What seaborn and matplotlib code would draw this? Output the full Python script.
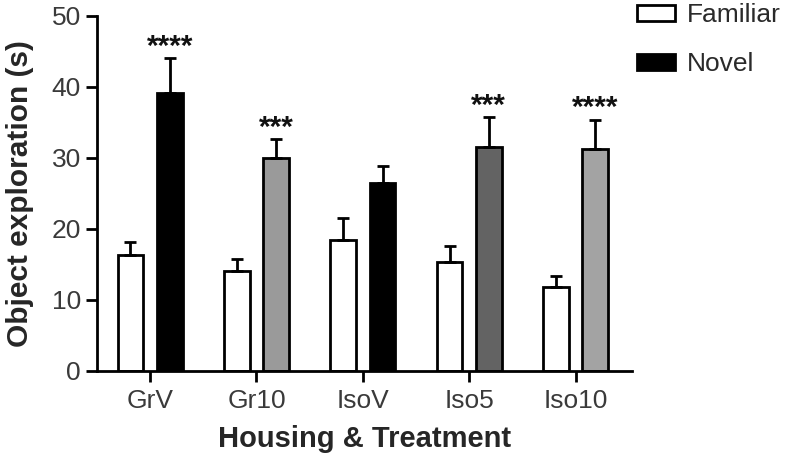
import numpy as np
import pandas as pd
import seaborn as sns
import matplotlib.pyplot as plt
from matplotlib.patches import Patch

# Values
groups = ['GrV', 'Gr10', 'IsoV', 'Iso5', 'Iso10']
familiar = [16.3, 14.1, 18.5, 15.3, 11.8]
familiar_err = [1.8, 1.7, 3.1, 2.3, 1.5]
novel = [39.2, 30.0, 26.5, 31.5, 31.2]
novel_err = [4.8, 2.7, 2.4, 4.2, 4.2]
novel_colors = ['#000000', '#9a9a9a', '#000000', '#636363', '#a3a3a3']
stars = ['****', '***', '', '***', '****']

df = pd.DataFrame({
    'group': groups * 2,
    'object': ['Familiar'] * len(groups) + ['Novel'] * len(groups),
    'time': familiar + novel,
})

sns.set_style('ticks')
plt.rcParams['font.family'] = ['Liberation Sans', 'DejaVu Sans']

fig = plt.figure(figsize=(7.88, 4.54), dpi=100)
ax = fig.add_axes([0.123, 0.183, 0.679, 0.782])

sns.barplot(data=df, x='group', y='time', hue='object', order=groups,
            hue_order=['Familiar', 'Novel'], palette=['white', 'black'],
            width=0.74, gap=0.35, errorbar=None, legend=False,
            edgecolor='black', linewidth=2, ax=ax)

# per-bar colours for the novel bars
fam_bars, nov_bars = ax.containers[0], ax.containers[1]
for bar, c in zip(nov_bars, novel_colors):
    bar.set_facecolor(c)

# upward-only error bars
for bars, errs in [(fam_bars, familiar_err), (nov_bars, novel_err)]:
    xs = [b.get_x() + b.get_width() / 2 for b in bars]
    ys = [b.get_height() for b in bars]
    ax.errorbar(xs, ys, yerr=[np.zeros(len(errs)), errs], fmt='none',
                ecolor='black', elinewidth=2, capsize=4.5, capthick=2, zorder=1)

# significance stars
for b, e, s in zip(nov_bars, novel_err, stars):
    if s:
        ax.annotate(s, (b.get_x() + b.get_width() / 2, b.get_height() + e),
                    xytext=(0, -2), textcoords='offset points',
                    ha='center', va='bottom', fontsize=21.5, fontweight='bold',
                    color='#111111')

ax.set_ylim(0, 50)
ax.set_xlim(-0.5, 4.53)
ax.set_yticks([0, 10, 20, 30, 40, 50])
ax.set_xlabel('Housing & Treatment', fontsize=21, fontweight='bold', labelpad=9)
ax.set_ylabel('Object exploration (s)', fontsize=21.5, fontweight='bold', labelpad=13)
ax.tick_params(axis='both', labelsize=19, width=2, length=8, colors='black',
               labelcolor='#3a3a3a')
ax.tick_params(axis='x', pad=5)
sns.despine(ax=ax)
for sp in ['left', 'bottom']:
    ax.spines[sp].set_linewidth(2)
    ax.spines[sp].set_color('black')

handles = [Patch(facecolor='white', edgecolor='black', linewidth=2),
           Patch(facecolor='black', edgecolor='black', linewidth=2)]
fig.legend(handles, ['Familiar', 'Novel'], loc='upper left',
           bbox_to_anchor=(637 / 788, 1 - 3 / 454), frameon=False,
           fontsize=19, handlelength=1.45, handleheight=0.55,
           handletextpad=0.45, labelspacing=0.95, borderpad=0,
           borderaxespad=0, labelcolor='#2a2a2a')

fig.savefig('out.png', dpi=100)
